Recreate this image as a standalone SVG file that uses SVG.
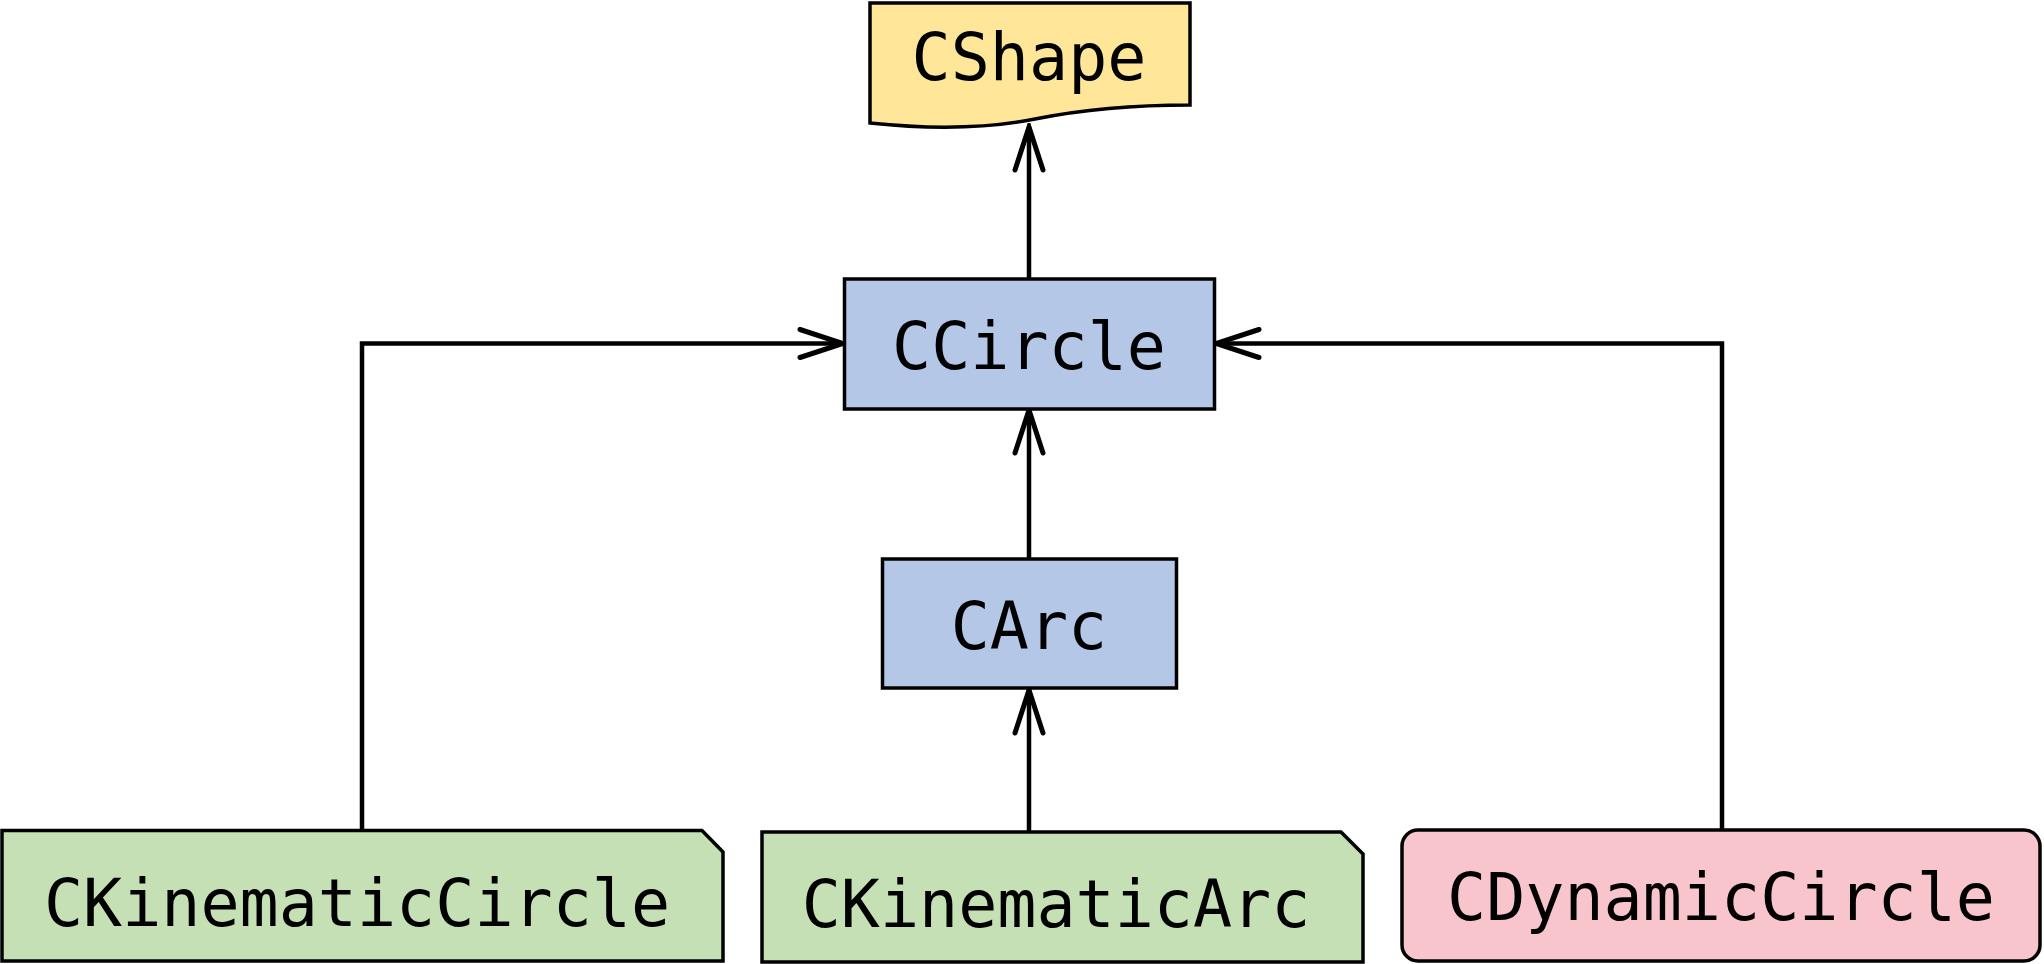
<svg xmlns="http://www.w3.org/2000/svg" width="2044" height="964" viewBox="0 0 2044 964">
  <defs>
    <style>
      .box { stroke: #000; stroke-width: 3.5; }
      .lbl { font-family: "DejaVu Sans Mono", "Liberation Mono", monospace; font-size: 65px; fill: #000; text-anchor: middle; }
      .edge { fill: none; stroke: #000; stroke-width: 4.5; }
    </style>
    <marker id="arr" markerUnits="userSpaceOnUse" viewBox="0 0 50 34" refX="46" refY="17" markerWidth="50" markerHeight="34" orient="auto">
      <path d="M3,3 L46,17 L3,31" fill="none" stroke="#000" stroke-width="5" stroke-linecap="round" stroke-linejoin="miter"/>
    </marker>
  </defs>
  <rect width="2044" height="964" fill="#fff"/>

  <g id="connectors">
    <path class="edge" d="M1029,279 L1029,127" marker-end="url(#arr)"/>
    <path class="edge" d="M1029,559 L1029,410" marker-end="url(#arr)"/>
    <path class="edge" d="M1029,832 L1029,690" marker-end="url(#arr)"/>
    <path class="edge" d="M362,830 L362,343.5 L843,343.5" marker-end="url(#arr)"/>
    <path class="edge" d="M1722,829 L1722,343.5 L1216,343.5" marker-end="url(#arr)"/>
  </g>

  <g id="CShape">
    <path class="box" fill="#FFE699" d="M870,3 L1190,3 L1190,105 Q1105,105 1035,119 Q965,133 870,123 Z"/>
    <text class="lbl" x="1029" y="80">CShape</text>
  </g>

  <g id="CCircle">
    <rect class="box" fill="#B4C7E7" x="844.5" y="279" width="370" height="130"/>
    <text class="lbl" x="1029" y="369">CCircle</text>
  </g>

  <g id="CArc">
    <rect class="box" fill="#B4C7E7" x="882.5" y="559" width="294" height="129"/>
    <text class="lbl" x="1029" y="649">CArc</text>
  </g>

  <g id="CKinematicCircle">
    <path class="box" fill="#C5E0B4" d="M2,830.5 L702,830.5 L723,852 L723,961 L2,961 Z"/>
    <text class="lbl" x="357" y="926">CKinematicCircle</text>
  </g>

  <g id="CKinematicArc">
    <path class="box" fill="#C5E0B4" d="M762,832 L1341,832 L1363,854 L1363,962 L762,962 Z"/>
    <text class="lbl" x="1056" y="927">CKinematicArc</text>
  </g>

  <g id="CDynamicCircle">
    <rect class="box" fill="#F8C5CC" x="1402" y="830" width="638" height="131" rx="16" ry="16"/>
    <text class="lbl" x="1721" y="920">CDynamicCircle</text>
  </g>
</svg>
